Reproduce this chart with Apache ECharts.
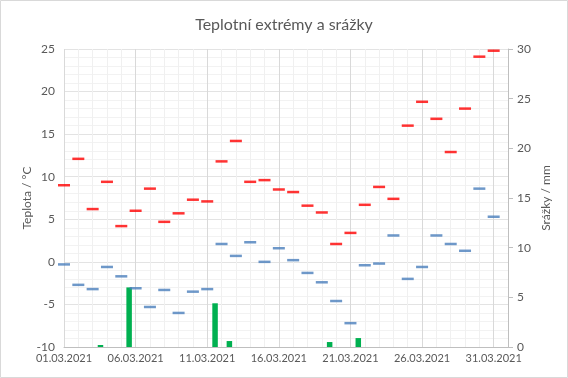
<!DOCTYPE html>
<html>
<head>
<meta charset="utf-8">
<script src="https://cdn.jsdelivr.net/npm/echarts@6/dist/echarts.min.js"></script>
<style>
  body { margin: 0; background: #fff; }
  #chart { width: 568px; height: 378px; }
</style>
</head>
<body>
<div id="chart"></div>
<script>
// den v měsíci (březen 2021)
const days = [1, 2, 3, 4, 5, 6, 7, 8, 9, 10, 11, 12, 13, 14, 15, 16, 17, 18, 19, 20, 21, 22, 23, 24, 25, 26, 27, 28, 29, 30, 31];
const tMax = [9.0, 12.1, 6.2, 9.4, 4.2, 6.0, 8.6, 4.7, 5.7, 7.3, 7.1, 11.8, 14.2, 9.4, 9.6, 8.5, 8.2, 6.6, 5.8, 2.1, 3.4, 6.7, 8.8, 7.4, 16.0, 18.8, 16.8, 12.9, 18.0, 24.1, 24.8];
const tMin = [-0.3, -2.7, -3.2, -0.6, -1.7, -3.1, -5.3, -3.3, -6.0, -3.5, -3.2, 2.1, 0.7, 2.3, 0.0, 1.6, 0.2, -1.3, -2.4, -4.6, -7.2, -0.4, -0.2, 3.1, -2.0, -0.6, 3.1, 2.1, 1.3, 8.6, 5.3];
const rain = [0, 0, 0, 0.2, 0, 6.0, 0, 0, 0, 0, 0, 4.4, 0.6, 0, 0, 0, 0, 0, 0, 0.5, 0, 0.9, 0, 0, 0, 0, 0, 0, 0, 0, 0];
const labelDays = [1, 6, 11, 16, 21, 26, 31];

const font = "Lato";
const textColor = "#595959";

const chart = echarts.init(document.getElementById("chart"));

const pad = (n) => (n < 10 ? "0" + n : "" + n);

const options = {
  animation: false,
  textStyle: { fontFamily: font },
  title: {
    text: "Teplotní extrémy a srážky",
    left: "center",
    top: 12,
    textStyle: { fontFamily: font, fontSize: 16, fontWeight: "normal", color: textColor },
  },
  graphic: [
    {
      type: "rect",
      shape: { x: 0.5, y: 0.5, width: 567, height: 377 },
      style: { fill: "none", stroke: "#d9d9d9", lineWidth: 1 },
      silent: true,
    },
  ],
  grid: { left: 64, right: 60, top: 49, bottom: 31 },
  xAxis: [
    {
      // jemná mřížka po dnech
      type: "value",
      position: "bottom",
      min: 1,
      max: 32,
      interval: 1,
      axisLine: { show: false },
      axisTick: { show: false },
      axisLabel: { show: false },
      splitLine: { show: true, lineStyle: { color: "#f0f0f0" } },
    },
    {
      type: "value",
      position: "bottom",
      min: 1,
      max: 32,
      interval: 5,
      axisLine: { show: true, lineStyle: { color: "#bfbfbf" } },
      axisTick: { show: false },
      axisLabel: {
        color: textColor,
        fontSize: 11,
        fontFamily: font,
        margin: 6,
        formatter: (v) => (labelDays.includes(v) ? pad(v) + ".03.2021" : ""),
      },
      splitLine: { show: true, lineStyle: { color: "#d9d9d9" } },
    },
  ],
  yAxis: [
    {
      type: "value",
      min: -10,
      max: 25,
      interval: 5,
      name: "Teplota / °C",
      nameLocation: "middle",
      nameGap: 31,
      nameMoveOverlap: false,
      nameTextStyle: { color: textColor, fontSize: 12, fontFamily: font },
      axisLine: { show: false },
      axisTick: { show: false },
      axisLabel: { color: textColor, fontSize: 12, fontFamily: font, margin: 9 },
      splitLine: { show: true, lineStyle: { color: "#e3e3e3" } },
      minorTick: { show: false, splitNumber: 5 },
      minorSplitLine: { show: true, lineStyle: { color: "#f2f2f2" } },
    },
    {
      type: "value",
      min: 0,
      max: 30,
      interval: 5,
      position: "right",
      name: "Srážky / mm",
      nameLocation: "middle",
      nameGap: 32,
      nameMoveOverlap: false,
      nameRotate: 90,
      nameTextStyle: { color: textColor, fontSize: 12, fontFamily: font },
      axisLine: { show: true, lineStyle: { color: "#bfbfbf" } },
      axisTick: { show: true, length: 5, lineStyle: { color: "#bfbfbf" } },
      axisLabel: { color: textColor, fontSize: 12, fontFamily: font, margin: 9 },
      splitLine: { show: false },
    },
  ],
  series: [
    {
      name: "Srážky",
      type: "bar",
      xAxisIndex: 1,
      yAxisIndex: 1,
      barWidth: 5.5,
      barGap: "136%",
      itemStyle: { color: "#00b050" },
      data: days.map((d, i) => [d, rain[i]]),
    },
    {
      name: "Srážky (prázdná)",
      type: "bar",
      xAxisIndex: 1,
      yAxisIndex: 1,
      barWidth: 5.5,
      itemStyle: { color: "transparent" },
      data: days.map((d) => [d, 0]),
    },
    {
      name: "Tmin",
      type: "scatter",
      xAxisIndex: 1,
      symbol: "rect",
      symbolSize: [12, 2.5],
      itemStyle: { color: "#4a7ebb" },
      data: days.map((d, i) => [d, tMin[i]]),
    },
    {
      name: "Tmax",
      type: "scatter",
      xAxisIndex: 1,
      symbol: "rect",
      symbolSize: [12, 2.5],
      itemStyle: { color: "#ff0000" },
      data: days.map((d, i) => [d, tMax[i]]),
    },
  ],
};

chart.setOption(options);
</script>
</body>
</html>
